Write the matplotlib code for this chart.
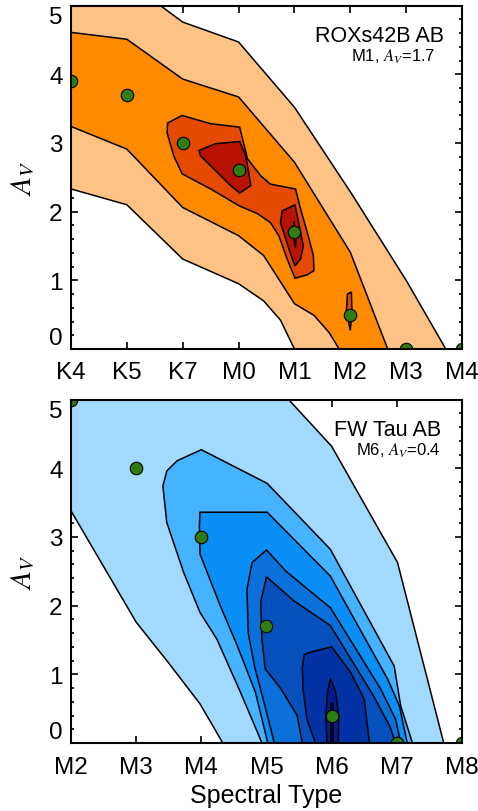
import matplotlib
matplotlib.use('Agg')
import matplotlib.pyplot as plt
from matplotlib.ticker import MultipleLocator

plt.rcParams['font.family'] = ['Liberation Sans', 'DejaVu Sans']
plt.rcParams['mathtext.fontset'] = 'stix'

# --- top panel: ROXs42B AB ---
top_ticklabels = ['K4', 'K5', 'K7', 'M0', 'M1', 'M2', 'M3', 'M4']
top_types = [0, 1, 2, 3, 4, 5, 6, 7]
top_av = [3.9, 3.7, 3.0, 2.6, 1.7, 0.5, 0.0, 0.0]

top_levels = [
    [(0, 5), (1.6, 5), (2, 4.76), (3, 4.47), (4, 3.52), (5, 2.29), (6, 1.0), (6.71, 0),
     (4, 0), (3.75, 0.42), (3.45, 0.70), (3, 0.95), (2, 1.31), (1, 2.10), (0, 2.33)],
    [(0, 4.61), (1, 4.51), (2, 3.93), (3, 3.67), (4, 2.72), (5, 1.41), (5.67, 0),
     (4.8, 0), (4.62, 0.24), (4.35, 0.49), (4, 0.66), (3.45, 1.36), (3, 1.65), (2, 2.06),
     (1, 2.91), (0, 3.24)],
    [(1.73, 3.29), (1.99, 3.40), (2.50, 3.28), (3.02, 3.23), (3.16, 2.77), (3.40, 2.52),
     (3.57, 2.40), (4.02, 2.33), (4.11, 2.04), (4.23, 1.70), (4.34, 1.36), (4.35, 1.14),
     (4.23, 1.08), (4.01, 1.03), (3.87, 1.31), (3.72, 1.65), (3.57, 1.84), (3.34, 1.97),
     (3.02, 2.08), (2.50, 2.33), (1.99, 2.55), (1.84, 2.81), (1.72, 3.15)],
    [(4.95, 0.80), (5.02, 0.83), (5.03, 0.55), (5.0, 0.27), (4.93, 0.55)],
    [(2.29, 2.89), (2.59, 2.99), (3.02, 3.02), (3.13, 2.81), (3.22, 2.38), (3.02, 2.27),
     (2.83, 2.40), (2.56, 2.62), (2.32, 2.81)],
    [(3.78, 2.01), (4.01, 2.10), (4.16, 1.50), (4.11, 1.31), (4.01, 1.21), (3.90, 1.46),
     (3.75, 1.84)],
    [(3.99, 1.86), (4.03, 1.68), (4.02, 1.48), (3.97, 1.68)],
]
top_colors = ['#FFC285', '#FF8A00', '#E44B00', '#E44B00', '#B81200', '#B81200', '#3A0000']

# --- bottom panel: FW Tau AB ---
bot_ticklabels = ['M2', 'M3', 'M4', 'M5', 'M6', 'M7', 'M8']
bot_types = [0, 1, 2, 3, 4, 5, 6]
bot_av = [5.0, 4.0, 3.0, 1.7, 0.4, 0.0, 0.0]

bot_levels = [
    [(0, 5), (3.34, 5), (4, 4.32), (5.01, 2.63), (5.72, 0), (2.33, 0), (1.98, 0.57),
     (1.47, 1.2), (1, 1.76), (0, 3.38)],
    [(2.0, 4.27), (3.01, 3.78), (3.98, 2.82), (4.96, 1.12), (5.06, 0.54), (5.24, 0),
     (2.93, 0), (2.86, 0.16), (2.60, 0.74), (2.24, 1.51), (1.98, 1.90), (1.73, 2.48),
     (1.47, 3.21), (1.41, 3.74), (1.47, 3.96), (1.63, 4.11)],
    [(1.98, 3.36), (3.01, 3.36), (3.98, 2.43), (4.86, 0.93), (5.04, 0.54), (5.16, 0),
     (3.02, 0), (2.83, 0.74), (2.55, 1.42), (2.29, 2.0), (1.98, 2.75), (1.97, 3.16)],
    [(3.0, 2.81), (3.3, 2.5), (3.98, 1.97), (4.75, 0.79), (4.98, 0.35), (5.06, 0),
     (3.12, 0), (2.96, 0.6), (2.82, 1.1), (2.72, 1.6), (2.70, 2.24), (2.78, 2.63)],
    [(3.0, 2.42), (3.42, 2.07), (3.98, 1.71), (4.64, 0.69), (4.89, 0.25), (4.98, 0),
     (3.55, 0), (3.47, 0.40), (3.22, 0.79), (2.98, 1.08), (2.93, 1.51), (2.91, 2.05)],
    [(3.58, 1.29), (3.70, 1.33), (4.0, 1.40), (4.29, 1.03), (4.50, 0.64), (4.58, 0),
     (3.75, 0), (3.62, 0.35), (3.56, 0.79), (3.55, 1.10)],
    [(3.98, 0.94), (4.06, 0.75), (4.11, 0.40), (4.10, 0), (3.93, 0), (3.91, 0.35),
     (3.93, 0.7)],
    [(3.985, 0.58), (4.015, 0.58), (4.015, 0.0), (3.985, 0.0)],
]
bot_colors = ['#A2D9FF', '#45B3FF', '#0A8FF7', '#0A70DA', '#0650BD', '#0332A4',
              '#021C92', '#000A60']

av_ticks = [0, 1, 2, 3, 4, 5]

fig = plt.figure(figsize=(4.78, 8.12), dpi=100)
ax1 = fig.add_axes([0.1485, 0.569, 0.818, 0.4229])
ax2 = fig.add_axes([0.1485, 0.0837, 0.818, 0.423])


def draw_panel(ax, levels, colors, xs, ys, labels, name, sub, name_x, sub_x):
    for poly, c in zip(levels, colors):
        px = [p[0] for p in poly]
        py = [p[1] for p in poly]
        ax.fill(px, py, facecolor=c, edgecolor='black', linewidth=1.1, zorder=2)
    ax.plot(xs, ys, 'o', color='#2E7D12', markeredgecolor='black',
            markeredgewidth=0.8, markersize=9, zorder=4)
    ax.set_xlim(xs[0], xs[-1])
    ax.set_ylim(0, 5)
    ax.set_xticks(xs)
    ax.set_xticklabels(labels)
    ax.set_yticks(av_ticks)
    ax.yaxis.set_minor_locator(MultipleLocator(0.2))
    ax.tick_params(which='both', direction='in', top=True, right=True,
                   labelsize=17.5, width=1.2)
    ax.tick_params(which='major', length=5)
    ax.tick_params(axis='x', which='major', pad=9)
    ax.tick_params(axis='y', which='major', pad=6)
    ax.tick_params(which='minor', length=2.5)
    ylabs = ax.get_yticklabels()
    ylabs[0].set_va('bottom')
    ylabs[-1].set_va('top')
    ax.set_ylabel(r'$A_V$', fontsize=21)
    ax.yaxis.set_label_coords(-0.09, 0.5)
    for s in ax.spines.values():
        s.set_linewidth(1.5)
        s.set_zorder(5)
    ax.text(name_x, 0.898, name, transform=ax.transAxes, ha='right',
            va='baseline', fontsize=15.5, zorder=6)
    ax.text(sub_x, 0.839, sub, transform=ax.transAxes, ha='right',
            va='baseline', fontsize=12, zorder=6)


draw_panel(ax1, top_levels, top_colors, top_types, top_av, top_ticklabels,
           'ROXs42B AB', r'M1, $A_V$=1.7', 0.954, 0.931)
draw_panel(ax2, bot_levels, bot_colors, bot_types, bot_av, bot_ticklabels,
           'FW Tau AB', r'M6, $A_V$=0.4', 0.946, 0.946)
ax2.set_xlabel('Spectral Type', fontsize=18)
ax2.xaxis.set_label_coords(0.5, -0.115)

fig.savefig('out.png', dpi=100)
